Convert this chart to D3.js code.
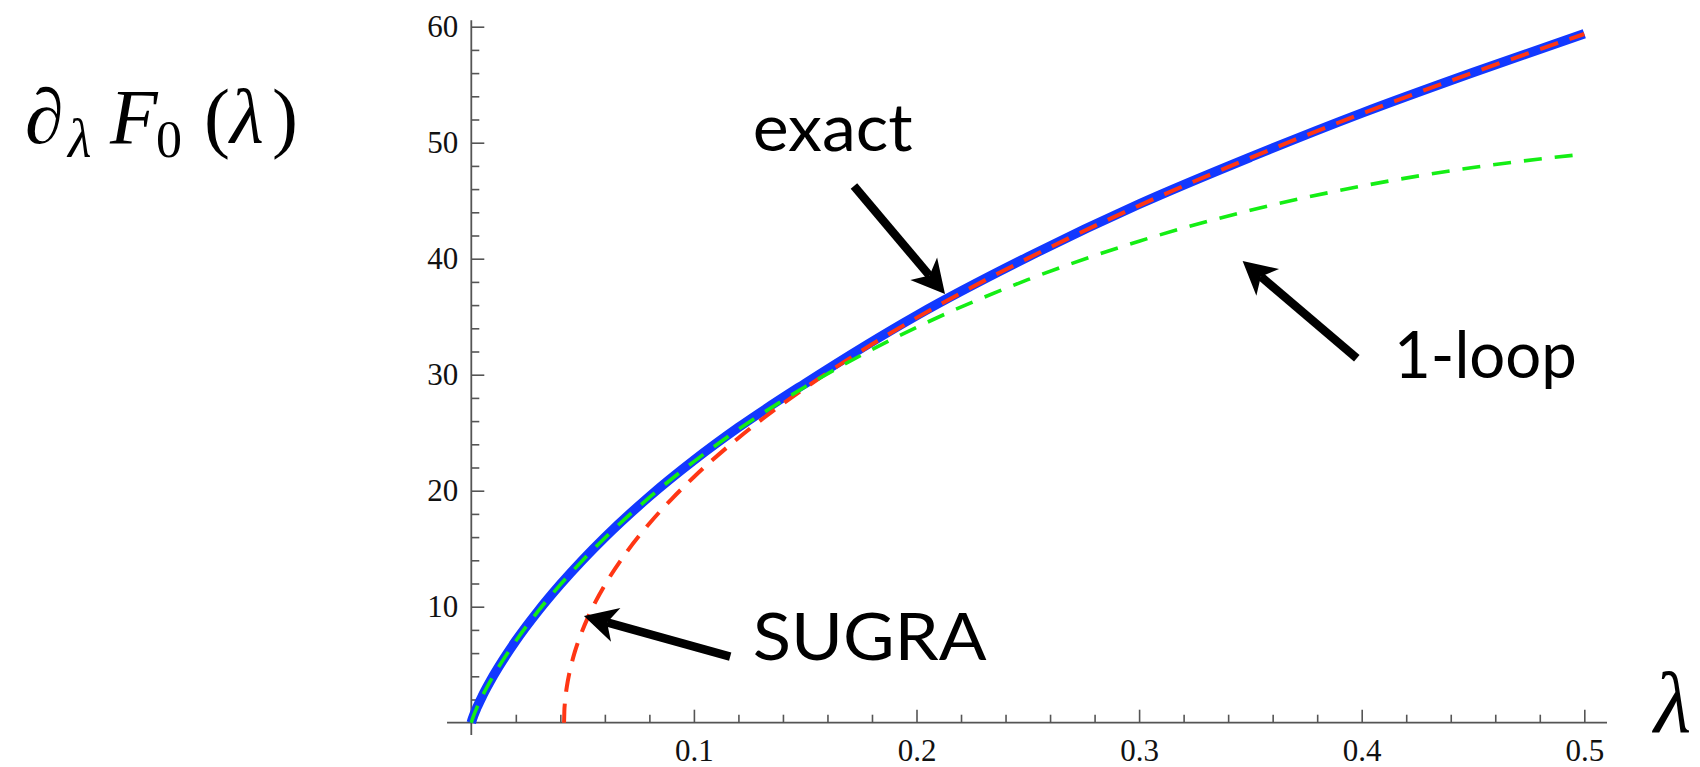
<!DOCTYPE html>
<html>
<head>
<meta charset="utf-8">
<script src="https://cdn.jsdelivr.net/npm/d3@7"></script>
<style>
  body { margin: 0; background: #fff; }
  svg { display: block; }
</style>
</head>
<body>
<svg id="chart" width="1700" height="767"></svg>
<script>
// lambda grid shared by exact and 1-loop curves
var lambdaGrid = [0, 0.0005, 0.001, 0.0025, 0.005, 0.01, 0.02, 0.03, 0.04, 0.05, 0.06, 0.08,
                  0.1, 0.12, 0.15, 0.2, 0.25, 0.3, 0.35, 0.4, 0.45, 0.5];
var exactValues = [0, 0.32, 0.59, 1.29, 2.31, 4.08, 7.06, 9.62, 11.92, 14.03, 15.98, 19.5,
                   22.62, 25.45, 29.25, 35.1, 40.15, 44.7, 48.75, 52.55, 56.05, 59.4];
var loopValues  = [0, 0.32, 0.59, 1.29, 2.31, 4.07, 7.04, 9.61, 11.9, 13.99, 15.93, 19.42,
                   22.51, 25.29, 28.96, 34.08, 38.19, 41.51, 44.17, 46.26, 47.86, 49.02];

// SUGRA curve starts at lambda ~ 1/24
var lambdaSugra = [0.04167, 0.0418, 0.042, 0.0425, 0.043, 0.044, 0.045, 0.0465, 0.048, 0.05,
                   0.052, 0.056, 0.06, 0.07, 0.08, 0.09, 0.1, 0.12, 0.14, 0.16, 0.18, 0.2,
                   0.22, 0.25, 0.3, 0.35, 0.4, 0.45, 0.5];
var sugraValues = [0, 1.0, 1.6, 2.53, 3.2, 4.23, 5.06, 6.1, 6.98, 8.0,
                   8.91, 10.5, 11.87, 14.76, 17.17, 19.28, 21.18, 24.55, 27.5, 30.17, 32.62, 34.9,
                   37.04, 40.03, 44.58, 48.7, 52.5, 56.04, 59.37];

var xTicks = [0.1, 0.2, 0.3, 0.4, 0.5];
var yTicks = [10, 20, 30, 40, 50, 60];

// annotations: label + arrow (tail -> tip) in data units
var notes = [
  {label: "exact",  at: [0.1264, 49.3], width: 160, tail: [0.1719, 46.27], tip: [0.2128, 36.96]},
  {label: "1-loop", at: [0.4145, 29.7], width: 183, tail: [0.3978, 31.41], tip: [0.3465, 39.8]},
  {label: "SUGRA",  at: [0.1264, 5.4],  width: 234, tail: [0.1163, 5.69],  tip: [0.0506, 9.2]}
];

var svg = d3.select("#chart");

var x = d3.scaleLinear().domain([0, 0.5]).range([471.3, 1584.3]);
var y = d3.scaleLinear().domain([0, 60]).range([722.7, 26.7]);

var axisColor = "#555";

/*
  AXES
*/
var xMinor = d3.range(0.02, 0.5001, 0.02).filter(function(d){ return Math.abs(d*10 - Math.round(d*10)) > 1e-6; });
var yMinor = d3.range(2, 60, 2).filter(function(d){ return d % 10 !== 0; });

svg.append("line")
  .attr("x1", x(-0.0109)).attr("x2", x(0.5102))
  .attr("y1", y(0)).attr("y2", y(0))
  .style("stroke", axisColor).style("stroke-width", 1.8);
svg.append("line")
  .attr("x1", x(0)).attr("x2", x(0))
  .attr("y1", y(-1.06)).attr("y2", y(60.55))
  .style("stroke", axisColor).style("stroke-width", 1.8);

var gx = svg.append("g").attr("transform", "translate(0," + y(0) + ")")
  .call(d3.axisBottom(x).tickValues(xTicks).tickSizeInner(-13).tickSizeOuter(0).tickPadding(16)
    .tickFormat(d3.format(".1f")));
var gxm = svg.append("g").attr("transform", "translate(0," + y(0) + ")")
  .call(d3.axisBottom(x).tickValues(xMinor).tickSizeInner(-8).tickSizeOuter(0).tickFormat(""));
var gy = svg.append("g").attr("transform", "translate(" + x(0) + ",0)")
  .call(d3.axisLeft(y).tickValues(yTicks).tickSizeInner(-13).tickSizeOuter(0).tickPadding(13));
var gym = svg.append("g").attr("transform", "translate(" + x(0) + ",0)")
  .call(d3.axisLeft(y).tickValues(yMinor).tickSizeInner(-8).tickSizeOuter(0).tickFormat(""));

[gx, gxm, gy, gym].forEach(function(g){
  g.select(".domain").remove();
  g.selectAll(".tick line").style("stroke", axisColor).style("stroke-width", 1.6);
  g.selectAll("text")
    .style("font-family", '"Liberation Serif", "Times New Roman", serif')
    .style("font-size", "31px")
    .style("fill", "#111");
});

/*
  CURVES
*/
var line = d3.line()
  .x(function(d){ return x(d[0]); })
  .y(function(d){ return y(d[1]); })
  .curve(d3.curveMonotoneX);

var exactPts = lambdaGrid.map(function(l, i){ return [l, exactValues[i]]; });
var loopPts  = lambdaGrid.map(function(l, i){ return [l, loopValues[i]]; });
var sugraPts = lambdaSugra.map(function(l, i){ return [l, sugraValues[i]]; });

svg.append("path").datum(exactPts)
  .attr("d", line)
  .style("fill", "none").style("stroke", "#1238ff").style("stroke-width", 9.5);

svg.append("path").datum(sugraPts)
  .attr("d", line)
  .style("fill", "none").style("stroke", "#ff3614").style("stroke-width", 4)
  .style("stroke-dasharray", "19,12");

svg.append("path").datum(loopPts)
  .attr("d", line)
  .style("fill", "none").style("stroke", "#14ee14").style("stroke-width", 3.6)
  .style("stroke-dasharray", "18,13");

/*
  ANNOTATIONS
*/
notes.forEach(function(n){
  var x0 = x(n.tail[0]), y0 = y(n.tail[1]);
  var x1 = x(n.tip[0]), y1 = y(n.tip[1]);
  var ang = Math.atan2(y1 - y0, x1 - x0);
  var len = Math.sqrt((x1 - x0)*(x1 - x0) + (y1 - y0)*(y1 - y0));

  var g = svg.append("g")
    .attr("transform", "translate(" + x0 + "," + y0 + ") rotate(" + (ang*180/Math.PI) + ")");
  g.append("line")
    .attr("x1", 0).attr("y1", 0).attr("x2", len - 24).attr("y2", 0)
    .style("stroke", "#000").style("stroke-width", 8.5);
  g.append("path")
    .attr("d", "M" + len + ",0 L" + (len - 33) + ",-17.5 L" + (len - 24) + ",0 L" + (len - 33) + ",17.5 Z")
    .style("fill", "#000");

  svg.append("text")
    .attr("x", x(n.at[0])).attr("y", y(n.at[1]))
    .attr("textLength", n.width).attr("lengthAdjust", "spacingAndGlyphs")
    .style("font-family", 'Lato, "Open Sans", sans-serif')
    .style("font-size", "66px")
    .style("fill", "#000")
    .text(n.label);
});

/*
  AXIS LABELS
*/
var serif = '"Liberation Serif", "DejaVu Serif", serif';
var ylab = svg.append("text")
  .attr("y", 143)
  .style("font-family", serif).style("font-size", "78px").style("fill", "#000");
ylab.append("tspan").attr("x", 25).text("\u2202");
ylab.append("tspan").attr("x", 68).attr("dy", 14).style("font-size", "54px").style("font-style", "italic").text("\u03bb");
ylab.append("tspan").attr("x", 110).attr("dy", -14).style("font-style", "italic").text("F");
ylab.append("tspan").attr("x", 156).attr("dy", 14).style("font-size", "52px").text("0");
ylab.append("tspan").attr("x", 204).attr("dy", -14).text("(");
ylab.append("tspan").attr("x", 230).style("font-style", "italic").text("\u03bb");
ylab.append("tspan").attr("x", 272).text(")");

svg.append("text")
  .attr("x", 1654).attr("y", 732)
  .style("font-family", serif).style("font-size", "86px").style("font-style", "italic")
  .style("fill", "#000")
  .text("\u03bb");
</script>
</body>
</html>
